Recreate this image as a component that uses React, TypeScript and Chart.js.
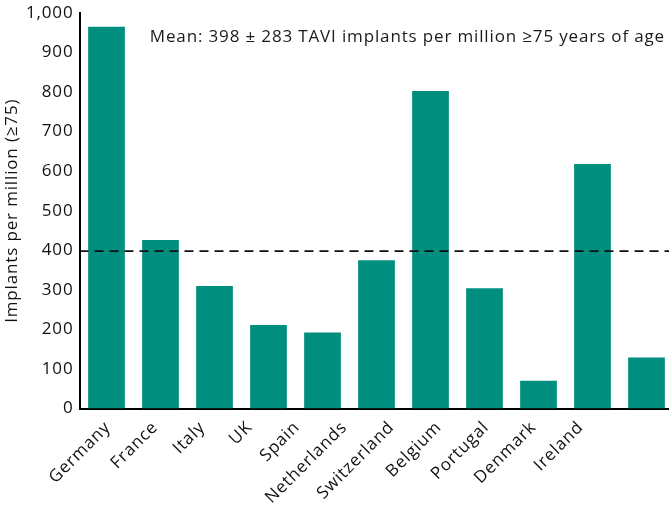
import React, { useEffect, useRef } from "react";
import { Chart, registerables } from "chart.js";

Chart.register(...registerables);

const countries = ["Germany", "France", "Italy", "UK", "Spain", "Netherlands", "Switzerland", "Belgium", "Portugal", "Denmark", "Ireland"];
const implants = [965, 426, 310, 211, 192, 375, 803, 304, 70, 618, 129];
const meanValue = 398;
const meanLabel = "Mean: 398 \u00b1 283 TAVI implants per million \u226575 years of age";
const yTitle = "Implants per million (\u226575)";
const yTicks = [0, 100, 200, 300, 400, 500, 600, 700, 800, 900, 1000];
// label axis range (labels in the reference are spaced tighter than the bars)
const labelAxisMin = -0.6;
const labelAxisMax = 11.96;

const FONT = "'Open Sans', Lato, sans-serif";
const SPACING = "0.85px";
const CANVAS_W = 674;
const CANVAS_H = 505;

const spacingPlugin = {
  id: "spacing",
  beforeUpdate(chart: any) {
    chart.ctx.letterSpacing = SPACING;
  },
  beforeDraw(chart: any) {
    chart.ctx.letterSpacing = SPACING;
  },
};

const meanPlugin = {
  id: "meanLine",
  afterDatasetsDraw(chart: any) {
    const { ctx, chartArea, scales } = chart;
    const y = scales.y.getPixelForValue(meanValue);
    ctx.save();
    ctx.strokeStyle = "#111";
    ctx.lineWidth = 1.6;
    ctx.setLineDash([9, 6]);
    ctx.beginPath();
    ctx.moveTo(chartArea.left, y);
    ctx.lineTo(chart.width, y);
    ctx.stroke();
    ctx.setLineDash([]);
    ctx.fillStyle = "#1a1a1a";
    ctx.letterSpacing = SPACING;
    ctx.font = `17px ${FONT}`;
    ctx.textAlign = "right";
    ctx.textBaseline = "middle";
    ctx.fillText(meanLabel, chart.width - 9, 37);
    ctx.restore();
  },
};

export default function App() {
  const ref = useRef<HTMLCanvasElement>(null);
  useEffect(() => {
    document.body.style.margin = "0";
    document.body.style.overflow = "hidden";
    const chart = new Chart(ref.current!, {
      type: "bar",
      data: {
        labels: countries,
        datasets: [
          {
            data: implants,
            backgroundColor: "#008f7e",
            categoryPercentage: 1,
            barPercentage: 0.68,
            xAxisID: "x",
          },
        ],
      },
      options: {
        animation: false,
        responsive: false,
        devicePixelRatio: 1,
        layout: { padding: { top: 13, right: 0.5, left: 2, bottom: 0 } },
        plugins: { legend: { display: false }, tooltip: { enabled: false } },
        scales: {
          x: {
            type: "category",
            position: "bottom",
            grid: { display: false, drawTicks: false },
            border: { display: true, color: "#000", width: 2 },
            ticks: { display: false },
            afterFit(scale: any) {
              scale.height = 0;
              scale.paddingLeft = 0;
              scale.paddingRight = 0;
            },
          },
          xl: {
            type: "linear",
            position: "bottom",
            offset: false,
            min: labelAxisMin,
            max: labelAxisMax,
            grid: { display: false, drawTicks: false, offset: false },
            border: { display: false },
            afterBuildTicks(scale: any) {
              scale.ticks = countries.map((_, i) => ({ value: i }));
            },
            ticks: {
              color: "#111",
              font: { family: FONT, size: 17 },
              maxRotation: 45,
              minRotation: 45,
              padding: 9,
              autoSkip: false,
              callback: (v: any) => countries[Math.round(Number(v))] ?? "",
            },
            afterFit(scale: any) {
              scale.height = 96.5;
              scale.paddingLeft = 0;
              scale.paddingRight = 0;
            },
          },
          y: {
            min: 0,
            max: 1000,
            grid: { display: false, drawTicks: false },
            border: { display: true, color: "#000", width: 2 },
            afterBuildTicks(scale: any) {
              scale.ticks = yTicks.map((v) => ({ value: v }));
            },
            ticks: {
              color: "#111",
              font: { family: FONT, size: 17 },
              padding: 6,
              callback: (v: any) => Number(v).toLocaleString("en-US"),
            },
            title: {
              display: true,
              text: yTitle,
              color: "#111",
              font: { family: FONT, size: 17 },
              padding: 0,
            },
            afterFit(scale: any) {
              scale.width = 77.5;
              scale.paddingTop = 0;
              scale.paddingBottom = 0;
            },
          },
        },
      },
      plugins: [spacingPlugin, meanPlugin],
    });
    return () => chart.destroy();
  }, []);
  return (
    <div style={{ width: 669, height: CANVAS_H, overflow: "hidden" }}>
      <canvas ref={ref} width={CANVAS_W} height={CANVAS_H} style={{ width: CANVAS_W, height: CANVAS_H, display: "block" }} />
    </div>
  );
}
